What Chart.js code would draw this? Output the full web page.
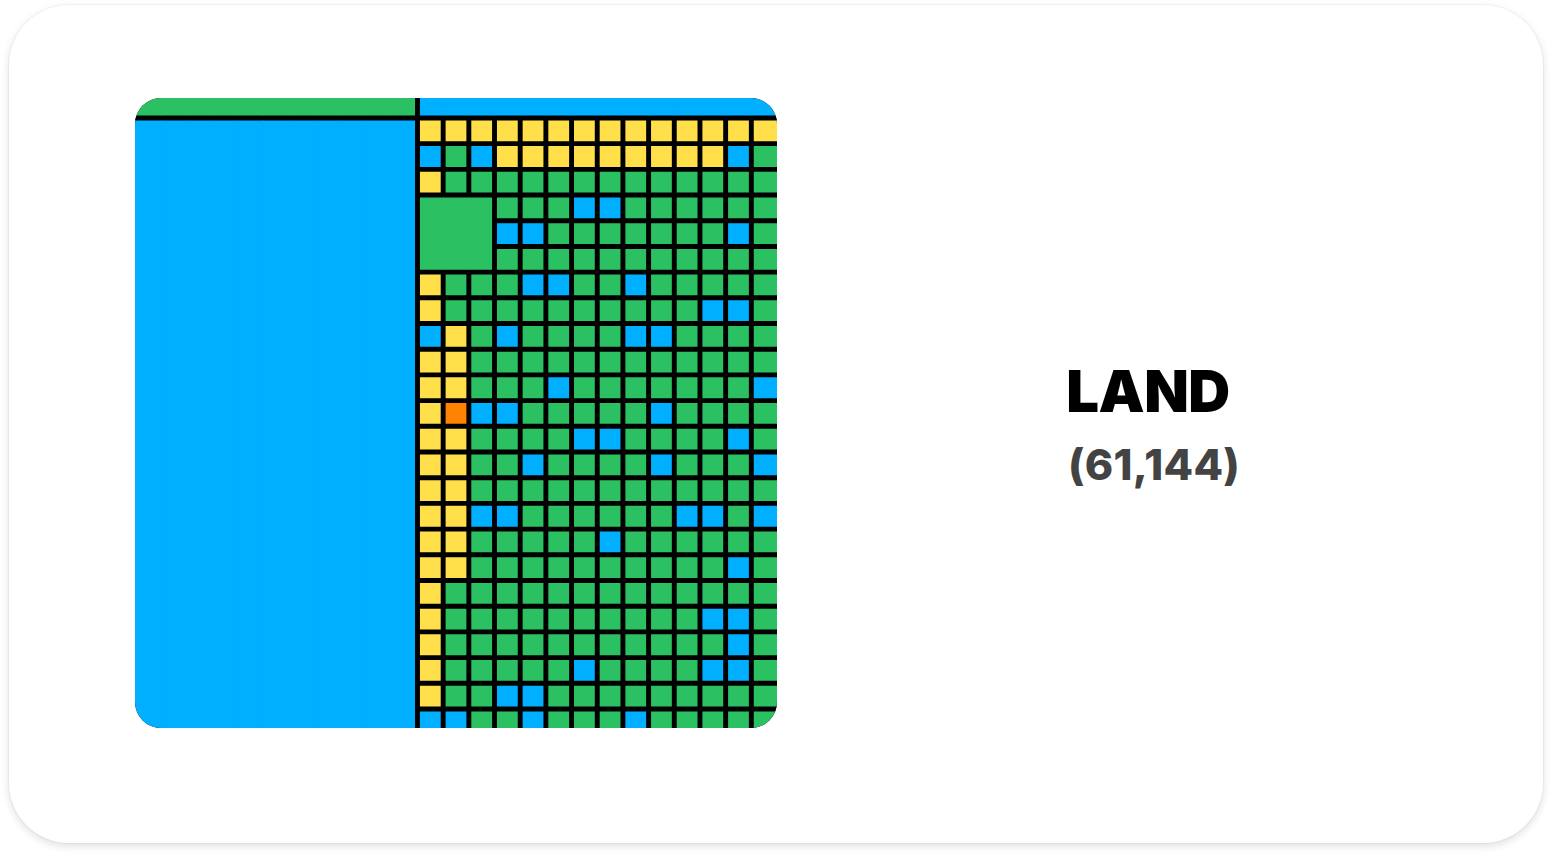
<!DOCTYPE html>
<html>
<head>
<meta charset="utf-8">
<script src="https://cdn.jsdelivr.net/npm/chart.js@4.4.1/dist/chart.umd.min.js"></script>
<style>
  html, body { margin:0; padding:0; background:#ffffff; width:1553px; height:857px; overflow:hidden; }
  #card { position:absolute; left:9px; top:5px; width:1534px; height:838px; border-radius:60px; background:#fff;
          box-shadow: 0 3px 8px rgba(0,0,0,0.13), 0 0 0 1px rgba(0,0,0,0.035); }
  #chartBox { position:absolute; left:135px; top:98px; width:642px; height:630px; }
  .lbl { position:absolute; width:400px; text-align:center; font-family: Inter, "Noto Sans", sans-serif; line-height:1; white-space:nowrap; }
  #name { top:362px; left:948px; font-size:58px; font-weight:900; color:#000; letter-spacing:-0.5px; }
  #coords { top:443px; left:954px; font-size:43px; font-weight:800; color:#434343; letter-spacing:0.3px; }
</style>
</head>
<body>
<div id="card"></div>
<div id="chartBox"><canvas id="c"></canvas></div>
<div class="lbl" id="name">LAND</div>
<div class="lbl" id="coords">(61,144)</div>
<script>
// ---- data ----
const columnLabels = Array.from({length: 25}, (_, i) => String(i));
// top strip (row 0): 11 columns land, 14 columns water
const topStrip = 'GGGGGGGGGGG' + 'BBBBBBBBBBBBBB';
// left ocean part of rows 1..24
const leftPart = 'BBBBBBBBBBB';
// right 14 columns for rows 1..24
const rightRows = [
  'YYYYYYYYYYYYYY',
  'BGBYYYYYYYYYBG',
  'YGGGGGGGGGGGGG',
  'GGGGGGBBGGGGGG',
  'GGGBBGGGGGGGBG',
  'GGGGGGGGGGGGGG',
  'YGGGBBGGBGGGGG',
  'YGGGGGGGGGGBBG',
  'BYGBGGGGBBGGGG',
  'YYGGGGGGGGGGGG',
  'YYGGGBGGGGGGGB',
  'YOBBGGGGGBGGGG',
  'YYGGGGBBGGGGBG',
  'YYGGBGGGGBGGGB',
  'YYGGGGGGGGGGGG',
  'YYBBGGGGGGBBGB',
  'YYGGGGGBGGGGGG',
  'YYGGGGGGGGGGBG',
  'YGGGGGGGGGGGGG',
  'YGGGGGGGGGGBBG',
  'YGGGGGGGGGGGBG',
  'YGGGGGBGGGGBBG',
  'YGGBBGGGGGGGGG',
  'BBGGBGGGBGGGGG'
];
// merged regions: [colStart, colEnd] and [rowStart, rowEnd]
const mergedCols  = [[0, 10], [11, 24], [0, 10], [11, 13]];
const mergedRows  = [[0, 0],  [0, 0],   [1, 24], [4, 6]];
const kinds = ['B', 'G', 'Y', 'O'];
const kindNames = ['Water', 'Land', 'Sand', 'Special'];

// ---- styles ----
const palette = { B: '#00AFFF', G: '#2BC062', Y: '#FFE04B', O: '#FF8200' };
const HALF_GAP = 2.45;
const OVERSIZE = 1.05;   // bars slightly wider than a column so merged columns overlap
const CORNER = 26;

// ---- build bars ----
const grid = [topStrip].concat(rightRows.map(r => leftPart + r));
const NR = grid.length, NC = columnLabels.length;
const blockOf = grid.map(row => row.split('').map(() => -1));
mergedCols.forEach((cr, i) => {
  const rr = mergedRows[i];
  for (let r = rr[0]; r <= rr[1]; r++) for (let c = cr[0]; c <= cr[1]; c++) blockOf[r][c] = i;
});

const bars = { B: [], G: [], Y: [], O: [] };
// merged blocks: one floating bar per column spanning the block's rows
mergedCols.forEach((cr, i) => {
  const rr = mergedRows[i];
  for (let c = cr[0]; c <= cr[1]; c++) {
    const k = grid[rr[0]][c];
    bars[k].push({ x: columnLabels[c], y: [rr[0], rr[1] + 1], c, r0: rr[0], r1: rr[1], m: i });
  }
});
// single cells
grid.forEach((row, r) => row.split('').forEach((k, c) => {
  if (blockOf[r][c] === -1) bars[k].push({ x: columnLabels[c], y: [r, r + 1], c, r0: r, r1: r, m: -1 });
}));

function borders(ctx) {
  const d = ctx.raw;
  if (!d || d.c === undefined) return 0;
  const ch = ctx.chart;
  const a = ch && ch.chartArea;
  const w = a ? (a.right - a.left) : (ch && ch.width ? ch.width : 642);
  const pitch = w / NC;
  const e = (OVERSIZE - 1) * pitch / 2;
  let left, right;
  if (d.m === -1) {
    left = d.c > 0 ? HALF_GAP + e : 0;
    right = d.c < NC - 1 ? HALF_GAP + e : 0;
  } else {
    const cr = mergedCols[d.m];
    left = (d.c === cr[0] && cr[0] > 0) ? HALF_GAP + e : 0;
    right = (d.c === cr[1] && cr[1] < NC - 1) ? HALF_GAP + e : 0;
  }
  const top = d.r0 > 0 ? HALF_GAP : 0;
  const bottom = d.r1 < NR - 1 ? HALF_GAP : 0;
  return { left, right, top, bottom };
}

const datasets = kinds.map((k, i) => ({
  label: kindNames[i],
  data: bars[k],
  backgroundColor: palette[k],
  borderColor: '#000',
  borderSkipped: false,
  grouped: false,
  inflateAmount: 0,
  barPercentage: OVERSIZE,
  categoryPercentage: 1,
  clip: false,
  borderWidth: borders
}));

// black gap colour behind the cells, inside a rounded clip
const roundClip = {
  id: 'roundClip',
  beforeDatasetsDraw(chart) {
    const { ctx, chartArea: a } = chart;
    ctx.save();
    ctx.beginPath();
    ctx.roundRect(a.left, a.top, a.right - a.left, a.bottom - a.top, CORNER);
    ctx.clip();
    ctx.fillStyle = '#000';
    ctx.fillRect(a.left, a.top, a.right - a.left, a.bottom - a.top);
  },
  afterDatasetsDraw(chart) { chart.ctx.restore(); }
};

new Chart(document.getElementById('c'), {
  type: 'bar',
  data: { labels: columnLabels, datasets },
  options: {
    responsive: true,
    maintainAspectRatio: false,
    animation: false,
    events: [],
    devicePixelRatio: 1,
    layout: { padding: 0 },
    plugins: { legend: { display: false }, tooltip: { enabled: false }, title: { display: false } },
    scales: {
      x: { type: 'category', offset: true, display: false, grid: { display: false } },
      y: { type: 'linear', reverse: true, min: 0.224, max: 24.74, display: false, grid: { display: false } }
    }
  },
  plugins: [roundClip]
});
</script>
</body>
</html>
